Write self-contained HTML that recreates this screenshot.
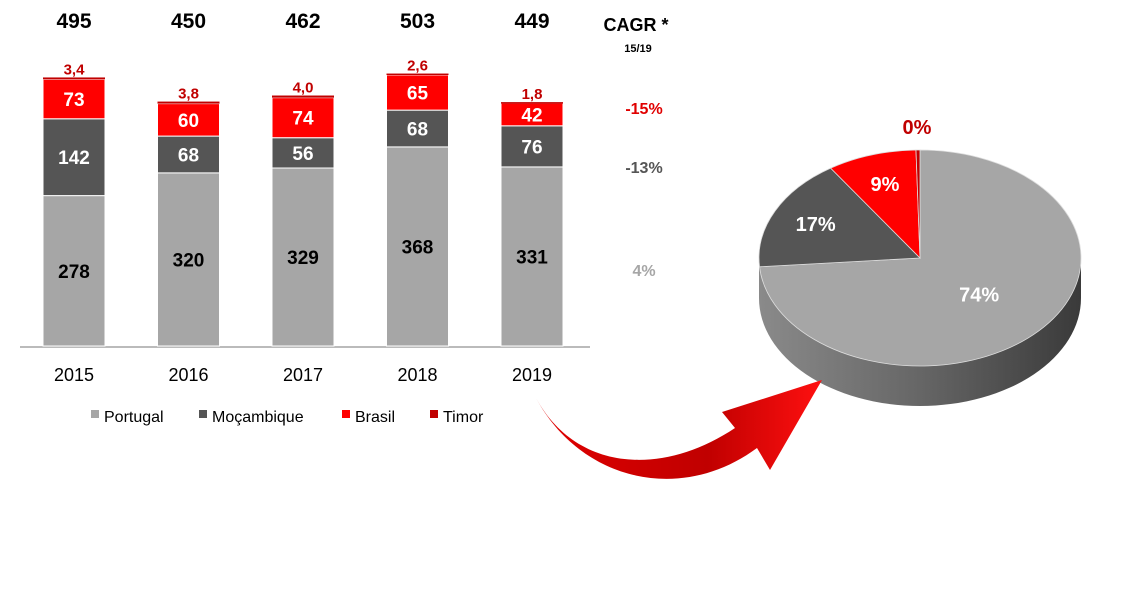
<!DOCTYPE html>
<html><head><meta charset="utf-8"><style>
body{margin:0;background:#fff;width:1132px;height:611px;overflow:hidden;font-family:"Liberation Sans",Arial,sans-serif}
</style></head><body>
<svg id="chart" width="1132" height="611" xmlns="http://www.w3.org/2000/svg">
<defs>
<linearGradient id="side" x1="0" x2="1" y1="0" y2="0">
<stop offset="0" stop-color="#8a8a8a"/><stop offset="0.5" stop-color="#666"/><stop offset="1" stop-color="#3a3a3a"/>
</linearGradient>
<linearGradient id="arrowg" x1="0" x2="1" y1="0" y2="0">
<stop offset="0" stop-color="#e00000"/><stop offset="0.6" stop-color="#c00000"/><stop offset="1" stop-color="#ff1010"/>
</linearGradient>
</defs>
<g id="bars"></g>
<g id="pie"></g>
<g font-weight="bold" text-anchor="middle">
<text x="636" y="31" font-size="18" fill="#000">CAGR *</text>
<text x="638" y="52" font-size="11" fill="#000">15/19</text>
<text x="644" y="114" font-size="16" fill="#e00000">-15%</text>
<text x="644" y="173" font-size="16" fill="#555">-13%</text>
<text x="644" y="276" font-size="16" fill="#a6a6a6">4%</text>
</g>
<path fill="url(#arrowg)" d="M536,398 C575,470 660,478 735,428 L722,412 L822,380 L770,470 L757,448 C680,505 580,480 536,398 Z"/>
<g font-size="16" fill="#000">
<rect x="91" y="410" width="8" height="8" fill="#a6a6a6"/><text x="104" y="422">Portugal</text>
<rect x="199" y="410" width="8" height="8" fill="#555"/><text x="212" y="422">Moçambique</text>
<rect x="342" y="410" width="8" height="8" fill="#ff0000"/><text x="355" y="422">Brasil</text>
<rect x="430" y="410" width="8" height="8" fill="#c00000"/><text x="443" y="422">Timor</text>
</g>
</svg>
<script>
const years=["2015","2016","2017","2018","2019"];
const portugal=[278,320,329,368,331];
const mocambique=[142,68,56,68,76];
const brasil=[73,60,74,65,42];
const timor=[3.4,3.8,4.0,2.6,1.8];
const timorLabels=["3,4","3,8","4,0","2,6","1,8"];
const totals=[495,450,462,503,449];
const pieLabels=["74%","17%","9%","0%"];
const pieShares=[74,17,9,0.4];

const NS="http://www.w3.org/2000/svg";
function mk(tag,attrs,parent,txt){const e=document.createElementNS(NS,tag);for(const k in attrs)e.setAttribute(k,attrs[k]);if(txt!==undefined)e.textContent=txt;parent.appendChild(e);return e;}
const base=346, k=0.541, x0=43, step=114.5, bw=62;
const yS=v=>base-v*k;
const bars=document.getElementById('bars');
const axis=mk('line',{x1:20,x2:590,y1:base+1,y2:base+1,stroke:'#bbb','stroke-width':2},bars);


const series=[[portugal,'#a6a6a6','#000','portugal'],[mocambique,'#555','#fff','mocambique'],[brasil,'#ff0000','#fff','brasil'],[timor,'#c00000','#c00000','timor']];
years.forEach((yr,i)=>{
  const x=x0+i*step; let cum=0;
  series.forEach(([arr,col,tc,nm],si)=>{
    const v=arr[i]; const y1=yS(cum), y2=yS(cum+v);
    const r=mk('rect',{x:x,y:y2,width:bw,height:Math.max(y1-y2,1.5),fill:col,stroke:'#fff','stroke-width':si<3?1:0},bars);
    
    
    let t;
    if(si<3){t=mk('text',{x:x+bw/2,y:(y1+y2)/2+7,'text-anchor':'middle','font-size':19,'font-weight':'bold',fill:tc},bars,String(v));}
    else{t=mk('text',{x:x+bw/2,y:y2-3,'text-anchor':'middle','font-size':15,'font-weight':'bold',fill:tc},bars,timorLabels[i]);}
    
    
    cum+=v;
  });
  const tt=mk('text',{x:x+bw/2,y:28,'text-anchor':'middle','font-size':21,'font-weight':'bold'},bars,String(totals[i]));
  
  
  const yl=mk('text',{x:x+bw/2,y:381,'text-anchor':'middle','font-size':18},bars,yr);
  
  
});
// pie
const pie=document.getElementById('pie');
const cx=920,cy=258,rx=161,ry=108,depth=40;
const side=mk('path',{d:`M${cx-rx},${cy} A${rx},${ry} 0 0 0 ${cx+rx},${cy} L${cx+rx},${cy+depth} A${rx},${ry} 0 0 1 ${cx-rx},${cy+depth} Z`,fill:'url(#side)'},pie);


const cols=['#a6a6a6','#555','#ff0000','#c00000'];
const names=['portugal','mocambique','brasil','timor'];
const tot=pieShares.reduce((a,b)=>a+b,0);
let a=-Math.PI/2;
const labelPos=[];
pieShares.forEach((s,i)=>{
  const da=s/tot*2*Math.PI, a2=a+da;
  const p1=[cx+rx*Math.cos(a),cy+ry*Math.sin(a)],p2=[cx+rx*Math.cos(a2),cy+ry*Math.sin(a2)];
  const sl=mk('path',{d:`M${cx},${cy} L${p1[0]},${p1[1]} A${rx},${ry} 0 ${da>Math.PI?1:0} 1 ${p2[0]},${p2[1]} Z`,fill:cols[i],stroke:'#ddd','stroke-width':0.8},pie);
  
  
  const m=(a+a2)/2; labelPos.push(m); a=a2;
});
pieLabels.forEach((l,i)=>{
  const m=labelPos[i]; const f=i==3?1.18:(i==0?0.5:0.72);
  let x=cx+rx*f*Math.cos(m), y=cy+ry*f*Math.sin(m)+7;
  if(i==3){x=917;y=134;}
  const t=mk('text',{x:x,y:y,'text-anchor':'middle','font-size':20,'font-weight':'bold',fill:i==3?'#c00000':'#fff'},pie,l);
  
  
});
</script>
</body></html>
